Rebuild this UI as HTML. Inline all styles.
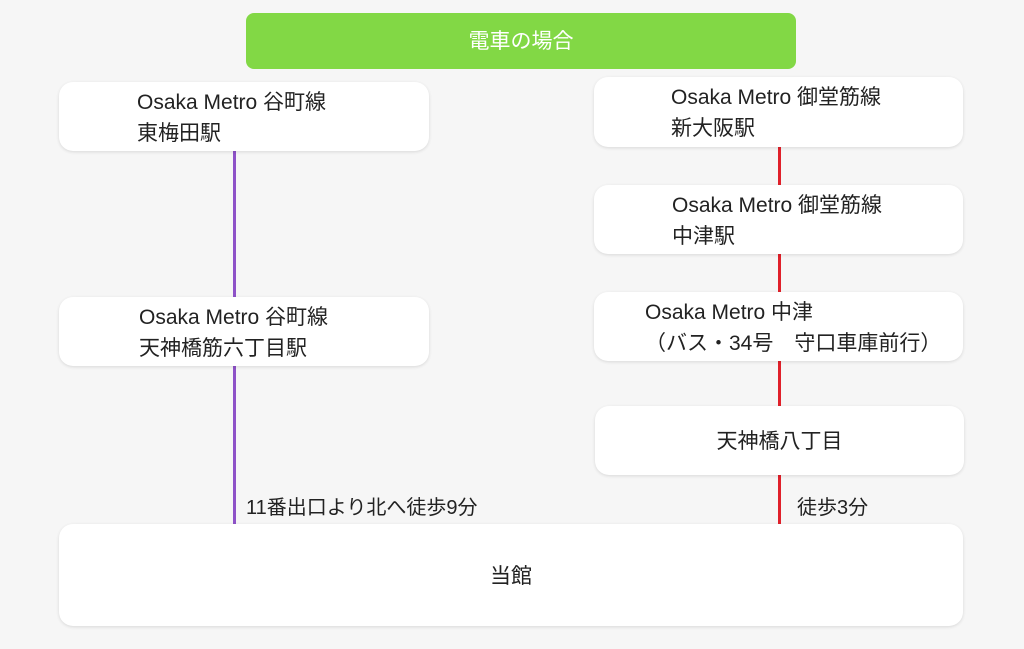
<!DOCTYPE html>
<html><head><meta charset="utf-8"><style>
body{margin:0;width:1024px;height:649px;background:#f6f6f6;position:relative;overflow:hidden;font-family:"Liberation Sans","Noto Sans CJK JP",sans-serif;color:#222}
.b{position:absolute;background:#fff;border-radius:14px;box-shadow:0 1px 3px rgba(0,0,0,0.12);font-size:21px;line-height:31px;box-sizing:border-box}
.l{position:absolute;width:3px}
.t{position:absolute;font-size:20px}
</style></head><body>
<div style="position:absolute;left:246px;top:13px;width:550px;height:56px;background:#82d845;border-radius:8px;color:#fff;font-size:21px;line-height:58px;text-align:center">電車の場合</div>
<div class="l" style="left:233px;top:150px;height:376px;background:#8e52c8"></div>
<div class="l" style="left:778px;top:146px;height:380px;background:#e0202a"></div>
<div class="b" style="left:59px;top:82px;width:370px;height:69px;padding:5px 0 0 78px">Osaka Metro 谷町線<br>東梅田駅</div>
<div class="b" style="left:59px;top:297px;width:370px;height:69px;padding:5px 0 0 80px">Osaka Metro 谷町線<br>天神橋筋六丁目駅</div>
<div class="b" style="left:594px;top:77px;width:369px;height:70px;padding:5px 0 0 77px">Osaka Metro 御堂筋線<br>新大阪駅</div>
<div class="b" style="left:594px;top:185px;width:369px;height:69px;padding:5px 0 0 78px">Osaka Metro 御堂筋線<br>中津駅</div>
<div class="b" style="left:594px;top:292px;width:369px;height:69px;padding:5px 0 0 51px;white-space:nowrap">Osaka Metro 中津<br>（バス・34号　守口車庫前行）</div>
<div class="b" style="left:595px;top:406px;width:369px;height:69px;line-height:71px;text-align:center">天神橋八丁目</div>
<div class="b" style="left:59px;top:524px;width:904px;height:102px;line-height:106px;text-align:center">当館</div>
<div class="t" style="left:246px;top:491px">11番出口より北へ徒歩9分</div>
<div class="t" style="left:797px;top:491px">徒歩3分</div>
</body></html>
